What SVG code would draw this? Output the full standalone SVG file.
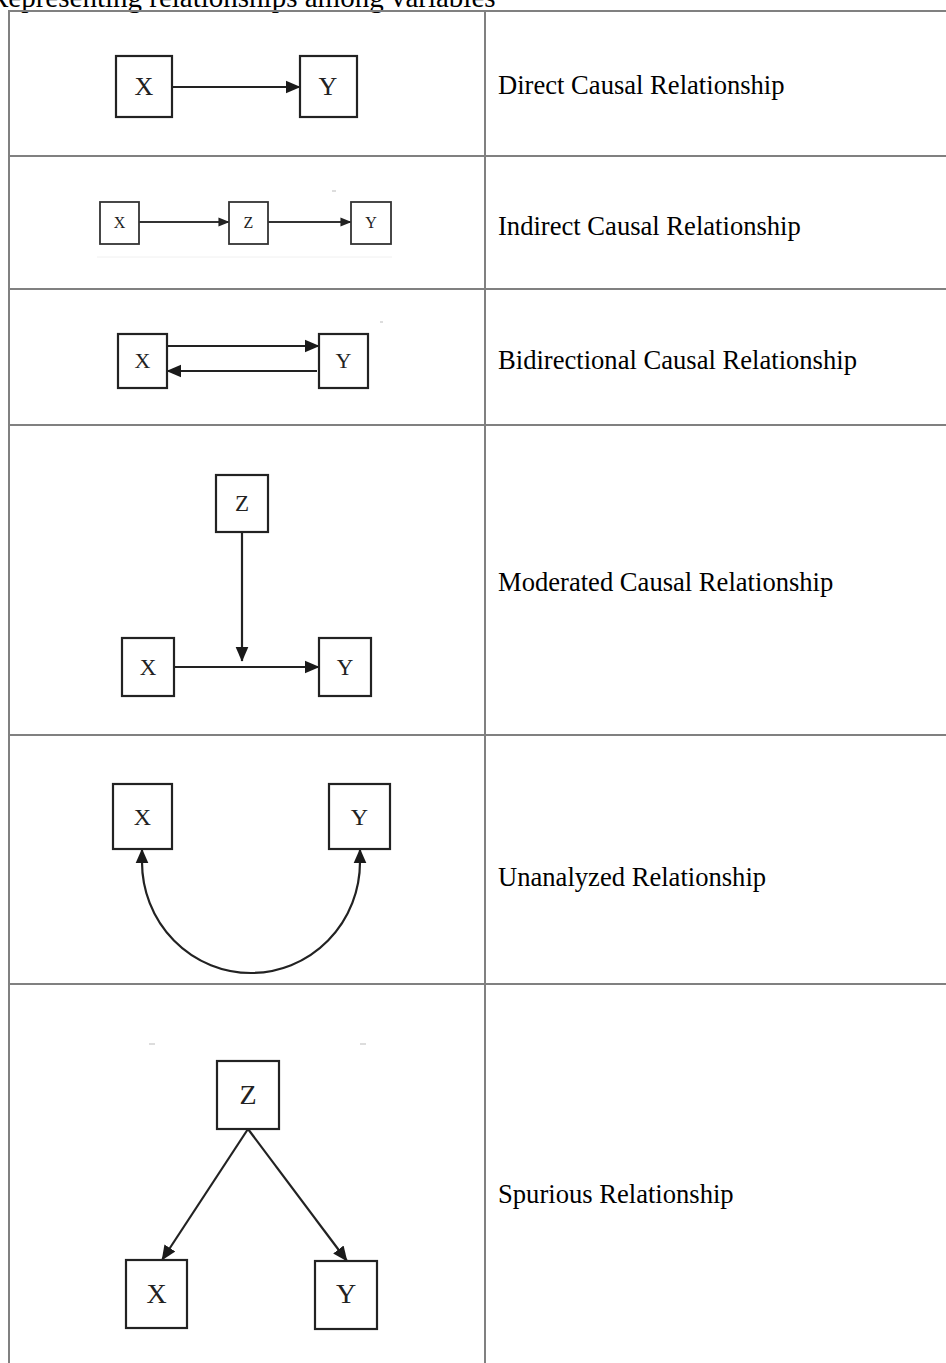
<svg xmlns="http://www.w3.org/2000/svg" width="946" height="1363" viewBox="0 0 946 1363">
<style>
.grid{stroke:#808080;stroke-width:2;fill:none}
.box{fill:#fff;stroke:#222;stroke-width:2.2}
.sbox{fill:#fff;stroke:#333;stroke-width:1.8}
.lbl{font-family:"Liberation Serif","Times New Roman",serif;fill:#222;text-anchor:middle}
.cap{font-family:"Liberation Serif","Times New Roman",serif;font-size:26.6px;fill:#000}
.edge{stroke:#222;stroke-width:2.2;fill:none}
.sedge{stroke:#333;stroke-width:1.8;fill:none}
.spk{stroke:#bbb;stroke-width:1}
</style>
<defs>
<marker id="ah" viewBox="0 0 12 12" refX="11.5" refY="6" markerWidth="15" markerHeight="15" markerUnits="userSpaceOnUse" orient="auto-start-reverse">
<path d="M0,0.8 L12,6 L0,11.2 z" fill="#1a1a1a"/>
</marker>
<marker id="ahs" viewBox="0 0 12 12" refX="11.5" refY="6" markerWidth="11" markerHeight="11" markerUnits="userSpaceOnUse" orient="auto-start-reverse">
<path d="M0,1 L12,6 L0,11 z" fill="#222"/>
</marker>
</defs>
<rect width="946" height="1363" fill="#fff"/>
<text x="-11" y="7" class="cap" style="font-size:29px">Representing relationships among variables</text>
<g id="table">
<line class="grid" x1="8" y1="11" x2="946" y2="11"/>
<line class="grid" x1="9" y1="10" x2="9" y2="1363"/>
<line class="grid" x1="485" y1="10" x2="485" y2="1363"/>
<line class="grid" x1="9" y1="156" x2="946" y2="156"/>
<line class="grid" x1="9" y1="289" x2="946" y2="289"/>
<line class="grid" x1="9" y1="425" x2="946" y2="425"/>
<line class="grid" x1="9" y1="735" x2="946" y2="735"/>
<line class="grid" x1="9" y1="984" x2="946" y2="984"/>
</g>
<g id="labels">
<text class="cap" x="498" y="94">Direct Causal Relationship</text>
<text class="cap" x="498" y="235">Indirect Causal Relationship</text>
<text class="cap" x="498" y="369">Bidirectional Causal Relationship</text>
<text class="cap" x="498" y="591">Moderated Causal Relationship</text>
<text class="cap" x="498" y="886">Unanalyzed Relationship</text>
<text class="cap" x="498" y="1203">Spurious Relationship</text>
</g>
<g id="specks">
<line x1="97" y1="257" x2="392" y2="257" stroke="#f0f0f0" stroke-width="1"/>
<line class="spk" x1="332" y1="191" x2="336" y2="191"/>
<line class="spk" x1="380" y1="322" x2="383" y2="322"/>
<line class="spk" x1="149" y1="1044" x2="155" y2="1044"/>
<line class="spk" x1="360" y1="1044" x2="366" y2="1044"/>
</g>
<g id="connectors">
<line class="edge" x1="172" y1="87" x2="300" y2="87" marker-end="url(#ah)"/>
<line class="sedge" x1="139" y1="222" x2="229" y2="222" marker-end="url(#ahs)"/>
<line class="sedge" x1="268" y1="222" x2="351" y2="222" marker-end="url(#ahs)"/>
<line class="edge" x1="167" y1="346" x2="319" y2="346" marker-end="url(#ah)"/>
<line class="edge" x1="317" y1="371" x2="167" y2="371" marker-end="url(#ah)"/>
<line class="edge" x1="174" y1="667" x2="319" y2="667" marker-end="url(#ah)"/>
<line class="edge" x1="242" y1="532" x2="242" y2="661" marker-end="url(#ah)"/>
<path class="edge" d="M142,849 L142,862 A109,111 0 0 0 360,862 L360,849" marker-start="url(#ah)" marker-end="url(#ah)"/>
<line class="edge" x1="248" y1="1129" x2="162" y2="1260" marker-end="url(#ah)"/>
<line class="edge" x1="248" y1="1129" x2="347" y2="1261" marker-end="url(#ah)"/>
</g>
<g id="r1-x"><rect class="box" x="116" y="56" width="56" height="61"/><text class="lbl" x="144" y="95" font-size="26">X</text></g>
<g id="r1-y"><rect class="box" x="300" y="56" width="57" height="61"/><text class="lbl" x="328" y="95" font-size="26">Y</text></g>
<g id="r2-x"><rect class="sbox" x="100" y="202" width="39" height="42"/><text class="lbl" x="119.5" y="228" font-size="16">X</text></g>
<g id="r2-z"><rect class="sbox" x="229" y="202" width="39" height="42"/><text class="lbl" x="248.5" y="228" font-size="16">Z</text></g>
<g id="r2-y"><rect class="sbox" x="351" y="202" width="40" height="42"/><text class="lbl" x="371" y="228" font-size="16">Y</text></g>
<g id="r3-x"><rect class="box" x="118" y="334" width="49" height="54"/><text class="lbl" x="142.5" y="368" font-size="22">X</text></g>
<g id="r3-y"><rect class="box" x="319" y="334" width="49" height="54"/><text class="lbl" x="343.5" y="368" font-size="22">Y</text></g>
<g id="r4-z"><rect class="box" x="216" y="475" width="52" height="57"/><text class="lbl" x="242" y="511" font-size="23">Z</text></g>
<g id="r4-x"><rect class="box" x="122" y="638" width="52" height="58"/><text class="lbl" x="148" y="675" font-size="23">X</text></g>
<g id="r4-y"><rect class="box" x="319" y="638" width="52" height="58"/><text class="lbl" x="345" y="675" font-size="23">Y</text></g>
<g id="r5-x"><rect class="box" x="113" y="784" width="59" height="65"/><text class="lbl" x="142.5" y="825" font-size="24">X</text></g>
<g id="r5-y"><rect class="box" x="329" y="784" width="61" height="65"/><text class="lbl" x="359.5" y="825" font-size="24">Y</text></g>
<g id="r6-z"><rect class="box" x="217" y="1061" width="62" height="68"/><text class="lbl" x="248" y="1104" font-size="28">Z</text></g>
<g id="r6-x"><rect class="box" x="126" y="1260" width="61" height="68"/><text class="lbl" x="156.5" y="1303" font-size="28">X</text></g>
<g id="r6-y"><rect class="box" x="315" y="1261" width="62" height="68"/><text class="lbl" x="346" y="1303" font-size="28">Y</text></g>
</svg>
